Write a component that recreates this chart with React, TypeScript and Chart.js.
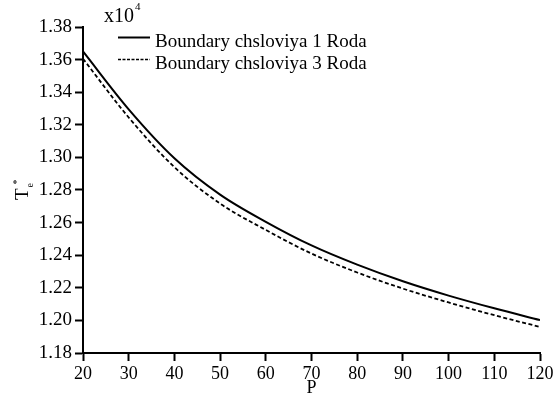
import React, { useEffect, useRef } from "react";
import { Chart, registerables } from "chart.js";

Chart.register(...registerables);

const FONT = "'Liberation Serif', 'Times New Roman', serif";
Chart.defaults.font.family = FONT;
Chart.defaults.font.size = 18;
Chart.defaults.color = "#000";

const pValues = [20, 30, 40, 50, 60, 70, 80, 90, 100, 110, 120];
const roda1 = [1.365, 1.3295, 1.2995, 1.2772, 1.2605, 1.246, 1.2342, 1.224, 1.2152, 1.2074, 1.2002];
const roda3 = [1.3605, 1.3245, 1.294, 1.2717, 1.2555, 1.241, 1.2294, 1.2195, 1.211, 1.2032, 1.196];
const seriesLabels = ["Boundary chsloviya 1 Roda", "Boundary chsloviya 3 Roda"];
const yTicks = [1.18, 1.2, 1.22, 1.24, 1.26, 1.28, 1.3, 1.32, 1.34, 1.36, 1.38];
const xTicks = [20, 30, 40, 50, 60, 70, 80, 90, 100, 110, 120];

const textPlugin = {
  id: "customTexts",
  afterDraw(chart: any) {
    const ctx = chart.ctx as CanvasRenderingContext2D;
    ctx.save();
    ctx.fillStyle = "#000";
    ctx.strokeStyle = "#000";
    ctx.textAlign = "left";
    ctx.textBaseline = "alphabetic";

    // multiplier
    ctx.font = `20px ${FONT}`;
    ctx.fillText("x10", 104, 22);
    const w = ctx.measureText("x10").width;
    ctx.font = `11px ${FONT}`;
    ctx.fillText("4", 104 + w + 1, 10);

    // legend
    const lx0 = 118, lx1 = 150;
    const rows = [
      { y: 46.5, dash: [] as number[], width: 2 },
      { y: 68.5, dash: [3, 1.5], width: 1.6 },
    ];
    rows.forEach((r, i) => {
      ctx.beginPath();
      ctx.setLineDash(r.dash);
      ctx.lineWidth = r.width;
      const ly = r.y - 9;
      ctx.moveTo(lx0, ly);
      ctx.lineTo(lx1, ly);
      ctx.stroke();
      ctx.setLineDash([]);
      ctx.font = `19px ${FONT}`;
      ctx.fillText(seriesLabels[i], 155, r.y);
    });

    // y title T_e^*
    ctx.translate(28, 200);
    ctx.rotate(-Math.PI / 2);
    ctx.font = `19px ${FONT}`;
    ctx.fillText("T", 0, 0);
    ctx.font = `10px ${FONT}`;
    ctx.fillText("e", 12.5, 4.5);
    ctx.fillText("*", 15.5, -8);
    ctx.restore();
  },
};

export default function App() {
  const ref = useRef<HTMLCanvasElement | null>(null);
  useEffect(() => {
    document.body.style.margin = "0";
    const canvas = ref.current;
    if (!canvas) return;
    const chart = new Chart(canvas, {
      type: "line",
      data: {
        datasets: [
          {
            label: seriesLabels[0],
            data: pValues.map((p, i) => ({ x: p, y: roda1[i] })),
            borderColor: "#000",
            borderWidth: 2,
            pointRadius: 0,
            cubicInterpolationMode: "monotone",
            fill: false,
          },
          {
            label: seriesLabels[1],
            data: pValues.map((p, i) => ({ x: p, y: roda3[i] })),
            borderColor: "#000",
            borderWidth: 1.8,
            borderDash: [4, 2.5],
            pointRadius: 0,
            cubicInterpolationMode: "monotone",
            fill: false,
          },
        ],
      },
      options: {
        animation: false,
        responsive: true,
        maintainAspectRatio: false,
        font: { family: FONT, size: 18 },
        layout: { padding: { top: 27, right: 19, bottom: 0, left: 0 } },
        plugins: {
          legend: { display: false },
          tooltip: { enabled: false },
          title: { display: false },
        },
        scales: {
          x: {
            type: "linear",
            min: 20,
            max: 120,
            afterBuildTicks: (scale: any) => {
              scale.ticks = xTicks.map((v) => ({ value: v }));
            },
            afterFit: (scale: any) => {
              scale.height = 47;
            },
            ticks: {
              color: "#000",
              font: { family: FONT, size: 18 },
              padding: 2,
              maxRotation: 0,
              autoSkip: false,
              callback: (v: any) => String(v),
            },
            grid: {
              display: true,
              drawOnChartArea: false,
              drawTicks: true,
              tickLength: 8,
              tickWidth: 2,
              tickColor: "#000",
              color: "#000",
            },
            border: { display: true, color: "#000", width: 2 },
            title: {
              display: true,
              text: "P",
              color: "#000",
              font: { family: FONT, size: 18 },
              padding: { top: 0, bottom: 1 },
            },
          },
          y: {
            type: "linear",
            min: 1.18,
            max: 1.38,
            afterBuildTicks: (scale: any) => {
              scale.ticks = yTicks.map((v) => ({ value: v }));
            },
            afterFit: (scale: any) => {
              scale.width = 83;
            },
            ticks: {
              color: "#000",
              font: { family: FONT, size: 19 },
              padding: 3,
              autoSkip: false,
              callback: (v: any) => Number(v).toFixed(2),
            },
            grid: {
              display: true,
              drawOnChartArea: false,
              drawTicks: true,
              tickLength: 8,
              tickWidth: 2,
              tickColor: "#000",
              color: "#000",
            },
            border: { display: true, color: "#000", width: 2 },
          },
        },
      },
      plugins: [textPlugin],
    });
    return () => chart.destroy();
  }, []);

  return (
    <div style={{ position: "absolute", left: 0, top: 0, width: 559, height: 400, background: "#fff" }}>
      <canvas ref={ref} />
    </div>
  );
}
